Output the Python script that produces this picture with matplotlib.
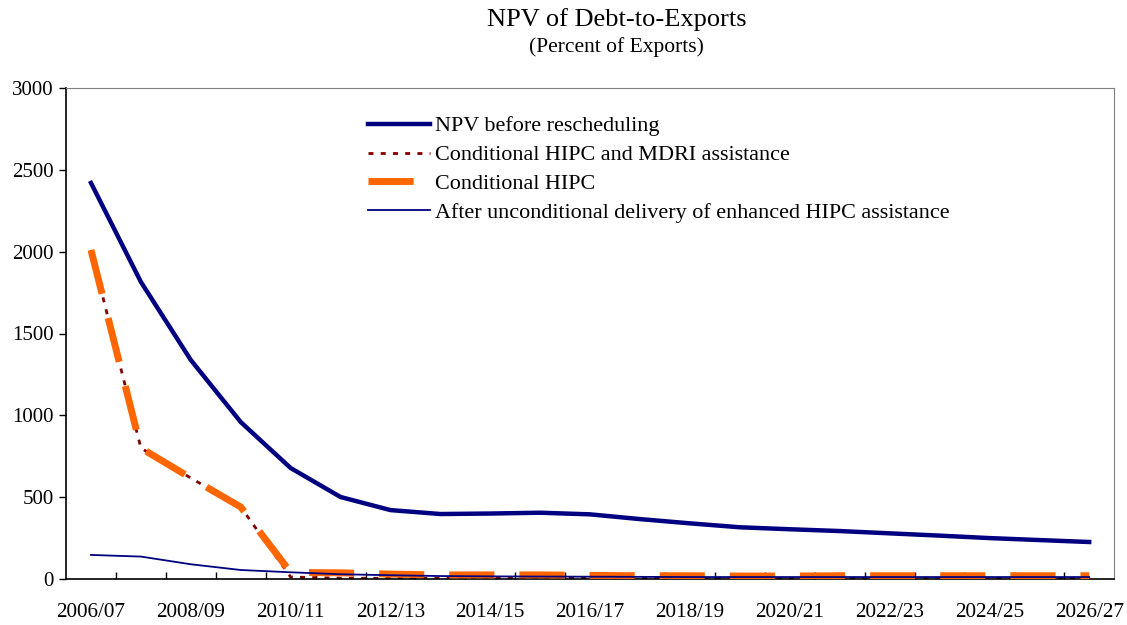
import numpy as np
import matplotlib
matplotlib.use("Agg")
import matplotlib.pyplot as plt

plt.rcParams['font.family'] = ['Liberation Serif', 'DejaVu Serif']

years = ['2006/07', '2007/08', '2008/09', '2009/10', '2010/11', '2011/12', '2012/13',
         '2013/14', '2014/15', '2015/16', '2016/17', '2017/18', '2018/19', '2019/20',
         '2020/21', '2021/22', '2022/23', '2023/24', '2024/25', '2025/26', '2026/27']

npv_before = [2420, 1815, 1338, 959, 678, 501, 421, 397, 400, 405, 395, 366, 340,
              316, 304, 293, 279, 265, 250, 238, 226]
hipc_mdri = [2010, 800, 617, 440, 12, 5, 4, 4, 4, 4, 4, 4, 4, 4, 4, 4, 4, 4, 4, 4, 4]
hipc = [2010, 800, 617, 440, 40, 38, 30, 25, 25, 25, 22, 20, 20, 18, 18, 20, 20, 20,
        20, 20, 20]
unconditional = [147, 137, 90, 55, 41, 29, 23, 18, 16, 15, 14, 13, 12, 12, 12, 12, 12,
                 12, 12, 12, 12]

x = np.arange(len(years))

fig = plt.figure(figsize=(11.27, 6.25), dpi=100)
ax = fig.add_axes([0.0586, 0.0736, 0.93, 0.7856])

ax.plot(x, npv_before, color='#000080', lw=3.2, label='NPV before rescheduling',
        solid_joinstyle='round', zorder=4)
ax.plot(x, hipc_mdri, color='#800000', lw=2.0, linestyle=(0, (1.8, 2.6)),
        label='Conditional HIPC and MDRI assistance', zorder=2)
ax.plot(x, hipc, color='#FF6600', lw=5, linestyle=(0, (6.5, 3.6)),
        label='Conditional HIPC', zorder=3)
ax.plot(x, unconditional, color='#000080', lw=1.3,
        label='After unconditional delivery of enhanced HIPC assistance', zorder=5)

ax.set_xlim(-0.5, len(years) - 0.5)
ax.set_ylim(0, 3000)
ax.set_yticks(np.arange(0, 3001, 500))

# labels on every other year, ticks between categories
ax.set_xticks(x[::2])
ax.set_xticklabels(years[::2])
ax.set_xticks(np.arange(0.5, len(years) - 1, 1), minor=True)
ax.tick_params(axis='x', which='major', length=0, labelsize=15.3, pad=17)
ax.tick_params(axis='x', which='minor', direction='in', length=5, width=1)
ax.tick_params(axis='y', direction='out', length=5, width=1, labelsize=15, pad=4)

for side in ['top', 'right']:
    ax.spines[side].set_color('#808080')
for side in ['left', 'bottom']:
    ax.spines[side].set_color('black')
    ax.spines[side].set_linewidth(1.2)

ax.legend(loc='upper left', bbox_to_anchor=(0.28, 0.961), frameon=False, fontsize=15.9,
          handlelength=2.8, handletextpad=0.23, labelspacing=0.38, borderaxespad=0)

fig.text(0.547, 0.969, 'NPV of Debt-to-Exports', ha='center', va='center', fontsize=19)
fig.text(0.547, 0.925, '(Percent of Exports)', ha='center', va='center', fontsize=15.5)

fig.savefig('out.png', dpi=100)
